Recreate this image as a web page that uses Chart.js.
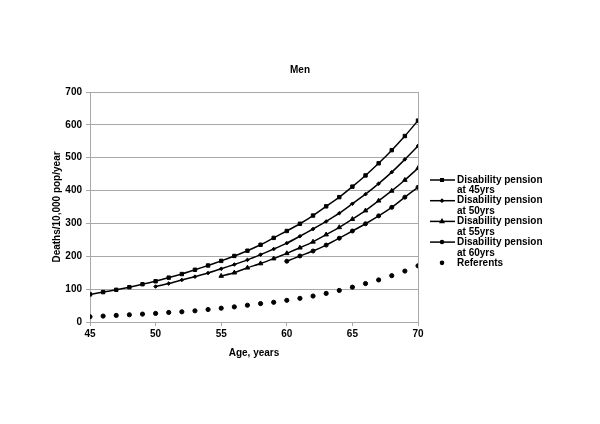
<!DOCTYPE html>
<html>
<head>
<meta charset="utf-8">
<script src="https://cdn.jsdelivr.net/npm/chart.js@4/dist/chart.umd.min.js"></script>
<style>
  body { margin: 0; background: #fff; }
  canvas { display: block; }
</style>
</head>
<body>
<canvas id="chart" width="600" height="424"></canvas>
<script>
// Chart data
const ages = [45, 46, 47, 48, 49, 50, 51, 52, 53, 54, 55, 56, 57, 58, 59, 60, 61, 62, 63, 64, 65, 66, 67, 68, 69, 70];
const pension45 = [84, 91, 98, 106, 115, 124, 135, 146, 159, 172, 186, 201, 217, 235, 256, 277, 299, 324, 352, 380, 412, 446, 483, 523, 566, 613];
const pension50 = [108, 117, 128, 138, 149, 162, 175, 189, 205, 222, 240, 261, 283, 306, 331, 360, 389, 421, 456, 495, 536];
const pension55 = [140, 150, 165, 178, 193, 209, 226, 244, 266, 288, 313, 339, 369, 399, 432, 468];
const pension60 = [185, 201, 216, 234, 255, 277, 299, 323, 349, 380, 410];
const referents = [16, 18, 20, 22, 24, 26, 29, 31, 34, 38, 42, 46, 51, 56, 60, 66, 72, 79, 87, 96, 106, 117, 128, 141, 155, 171];
const seriesLabels = [
  'Disability pension\nat 45yrs',
  'Disability pension\nat 50yrs',
  'Disability pension\nat 55yrs',
  'Disability pension\nat 60yrs',
  'Referents'
];
const xTicks = [45, 50, 55, 60, 65, 70];
const yTicks = [0, 100, 200, 300, 400, 500, 600, 700];

const FONT = 'Liberation Sans, Arial, sans-serif';

// series start at a given age, pair each value with its age
function points(values) {
  const start = ages.length - values.length;
  return values.map((v, i) => ({ x: ages[start + i], y: v }));
}

function lineSet(label, values, style, radius) {
  return {
    label: label,
    data: points(values),
    borderColor: '#000',
    backgroundColor: '#000',
    borderWidth: 1.5,
    pointStyle: style,
    pointRadius: radius,
    pointBorderWidth: 1,
    tension: 0.2
  };
}

const datasets = [
  lineSet(seriesLabels[0], pension45, 'rect', 2.4),
  lineSet(seriesLabels[1], pension50, 'rectRot', 1.8),
  lineSet(seriesLabels[2], pension55, 'triangle', 2.6),
  lineSet(seriesLabels[3], pension60, 'circle', 2),
  {
    label: seriesLabels[4],
    data: points(referents),
    showLine: false,
    borderColor: '#000',
    backgroundColor: '#000',
    pointStyle: 'circle',
    pointRadius: 2.1
  }
];

// title + multi line legend drawn by hand
const extras = {
  id: 'extras',
  afterDraw(chart) {
    const c = chart.ctx;
    c.save();
    c.fillStyle = '#000';
    c.font = 'bold 10px ' + FONT;
    c.textAlign = 'center';
    c.textBaseline = 'middle';
    c.fillText('Men', 300, 70);

    c.textAlign = 'left';
    let y = 180;
    chart.data.datasets.forEach(ds => {
      const lines = ds.label.split('\n');
      if (ds.showLine !== false) {
        c.strokeStyle = '#000';
        c.lineWidth = 1.5;
        c.beginPath();
        c.moveTo(430, y);
        c.lineTo(455, y);
        c.stroke();
      }
      Chart.helpers.drawPoint(c, {
        pointStyle: ds.pointStyle,
        radius: ds.pointRadius * 0.75,
        rotation: 0,
        borderWidth: 1
      }, 442, y);
      c.fillStyle = '#000';
      lines.forEach((t, i) => c.fillText(t, 457, y + i * 10.7));
      y += 20.7;
    });
    c.restore();
  }
};

new Chart(document.getElementById('chart'), {
  type: 'line',
  data: { datasets: datasets },
  plugins: [extras],
  options: {
    responsive: false,
    devicePixelRatio: 1,
    animation: false,
    layout: { padding: { left: 47, right: 182, top: 92, bottom: 61 } },
    plugins: {
      legend: { display: false },
      tooltip: { enabled: false }
    },
    scales: {
      x: {
        type: 'linear',
        min: 45,
        max: 70,
        afterFit: s => { s.height = 41; },
        afterBuildTicks: s => { s.ticks = xTicks.map(v => ({ value: v })); },
        ticks: { color: '#000', font: { family: FONT, size: 10, weight: 'bold' }, padding: 2, maxRotation: 0 },
        grid: {
          color: ctx => (ctx.tick && ctx.tick.value === 70 ? '#a8a8a8' : 'rgba(0,0,0,0)'),
          tickColor: '#a8a8a8',
          tickLength: 4,
          lineWidth: 1
        },
        border: { color: '#a8a8a8' },
        title: {
          display: true,
          text: 'Age, years',
          color: '#000',
          font: { family: FONT, size: 10, weight: 'bold' },
          padding: { top: 4, bottom: 4 }
        }
      },
      y: {
        min: 0,
        max: 700,
        afterFit: s => { s.width = 43; },
        afterBuildTicks: s => { s.ticks = yTicks.map(v => ({ value: v })); },
        ticks: { color: '#000', font: { family: FONT, size: 10, weight: 'bold' }, padding: 4 },
        grid: { color: '#a8a8a8', tickColor: '#a8a8a8', tickLength: 4, lineWidth: 1 },
        border: { color: '#a8a8a8' },
        title: {
          display: true,
          text: 'Deaths/10,000 pop/year',
          color: '#000',
          font: { family: FONT, size: 10, weight: 'bold' },
          padding: { top: 4, bottom: 4 }
        }
      }
    }
  }
});
</script>
</body>
</html>
